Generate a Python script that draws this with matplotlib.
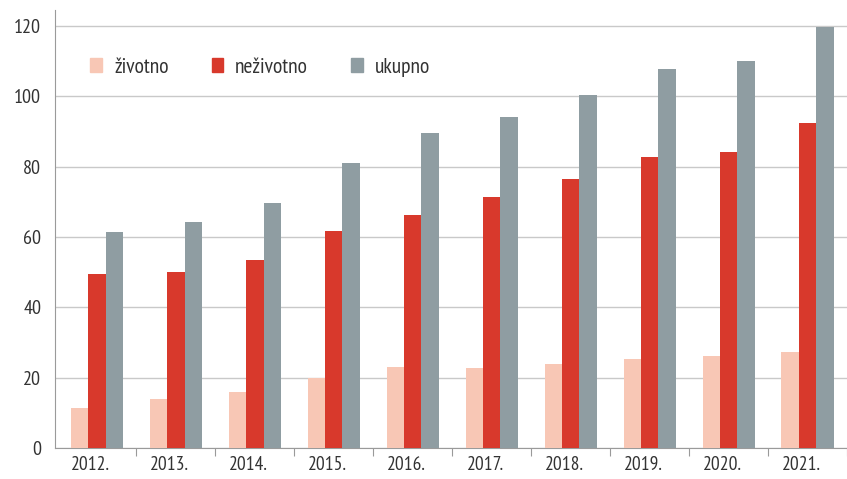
import numpy as np
import matplotlib.pyplot as plt
from matplotlib.patches import Patch

plt.rcParams['font.family'] = ['PT Sans Narrow', 'DejaVu Sans']

years = ['2012.', '2013.', '2014.', '2015.', '2016.', '2017.', '2018.', '2019.', '2020.', '2021.']
zivotno = [11.3, 13.9, 15.9, 19.9, 23.0, 22.7, 23.8, 25.2, 26.1, 27.2]
nezivotno = [49.4, 49.9, 53.3, 61.6, 66.1, 71.2, 76.6, 82.8, 84.0, 92.5]
ukupno = [61.3, 64.1, 69.5, 81.1, 89.6, 94.2, 100.4, 107.8, 110.1, 119.7]

series = ['životno', 'neživotno', 'ukupno']
colors = ['#f8c7b5', '#d8392c', '#8f9da2']

fig = plt.figure(figsize=(8.47, 4.79), dpi=100)
ax = fig.add_axes([0.065, 0.065, 0.935, 0.914])

x = np.arange(len(years))
w = 0.22
for off, vals, c in zip([-w, 0, w], [zivotno, nezivotno, ukupno], colors):
    ax.bar(x + off, vals, width=w, color=c, linewidth=0, zorder=3)

ax.set_xlim(-0.53, 9.41)
ax.set_ylim(0, 124.5)
ax.set_yticks(range(0, 121, 20))
ax.yaxis.grid(True, color='#c9c9c9', linewidth=1.0, zorder=0)
ax.tick_params(axis='y', length=0, labelsize=14.5, colors='#333333', pad=10)

ax.set_xticks(x + 0.5, minor=False)
ax.set_xticklabels([])
ax.tick_params(axis='x', which='major', length=6, color='#9a9a9a', direction='out')
ax.set_xticks(x - 0.08, minor=True)
ax.set_xticklabels(years, minor=True)
ax.tick_params(axis='x', which='minor', length=0, labelsize=14, colors='#333333', pad=6)

for s in ['top', 'right']:
    ax.spines[s].set_visible(False)
ax.spines['left'].set_color('#9a9a9a')
ax.spines['bottom'].set_color('#9a9a9a')

handles = [Patch(color=c) for c in colors]
ax.legend(handles, series, loc='upper left', bbox_to_anchor=(0.02, 0.935), ncol=3,
          frameon=False, fontsize=15.5, handlelength=0.55, handleheight=0.6,
          handletextpad=0.55, columnspacing=2.0, labelcolor='#333333')

fig.savefig('out.png', dpi=100)
